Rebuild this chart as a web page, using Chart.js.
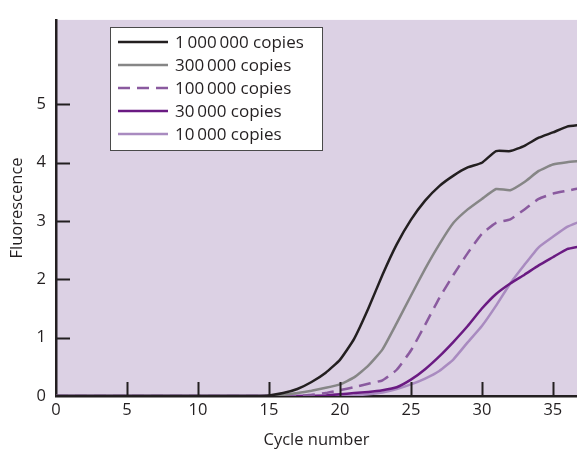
<!DOCTYPE html>
<html>
<head>
<meta charset="utf-8">
<script src="https://cdn.jsdelivr.net/npm/chart.js@4.4.1/dist/chart.umd.min.js"></script>
<style>
    html, body { margin: 0; padding: 0; background: #fff; }
    #wrap { width: 577px; height: 453px; position: relative; }
</style>
</head>
<body>
<div id="wrap"><canvas id="qpcrChart"></canvas></div>
<script>
const cycles = [0,1,2,3,4,5,6,7,8,9,10,11,12,13,14,15,16,17,18,19,20,21,22,23,24,25,26,27,28,29,30,31,32,33,34,35,36,37];

const copies1M =   [0,0,0,0,0,0,0,0,0,0,0,0,0,0,0,0.01,0.05,0.12,0.24,0.4,0.62,0.98,1.5,2.08,2.6,3.02,3.35,3.6,3.78,3.92,4.0,4.2,4.2,4.29,4.43,4.52,4.62,4.65];
const copies300k = [0,0,0,0,0,0,0,0,0,0,0,0,0,0,0,0,0.02,0.05,0.09,0.14,0.2,0.32,0.52,0.8,1.25,1.72,2.18,2.6,2.97,3.2,3.38,3.55,3.53,3.67,3.86,3.97,4.01,4.03];
const copies100k = [0,0,0,0,0,0,0,0,0,0,0,0,0,0,0,0,0,0,0.02,0.05,0.1,0.15,0.21,0.27,0.45,0.78,1.22,1.68,2.08,2.45,2.78,2.97,3.03,3.2,3.38,3.47,3.52,3.57];
const copies30k =  [0,0,0,0,0,0,0,0,0,0,0,0,0,0,0,0,0,0,0,0.01,0.03,0.05,0.07,0.1,0.15,0.28,0.46,0.68,0.93,1.2,1.5,1.75,1.93,2.08,2.24,2.38,2.52,2.57];
const copies10k =  [0,0,0,0,0,0,0,0,0,0,0,0,0,0,0,0,0,0,0,0,0,0.01,0.03,0.06,0.12,0.2,0.3,0.43,0.63,0.92,1.2,1.55,1.93,2.25,2.55,2.73,2.9,3.0];

const seriesLabels = ["1\u2009000\u2009000 copies", "300\u2009000 copies", "100\u2009000 copies", "30\u2009000 copies", "10\u2009000 copies"];
const xTicks = [0, 5, 10, 15, 20, 25, 30, 35];
const yTicks = [0, 1, 2, 3, 4, 5];

const FONT = "'Open Sans', sans-serif";
const FSIZE = 16.5;
const INK = "#231f20";

const toPoints = vals => cycles.map((c, i) => ({ x: c, y: vals[i] }));

const plotBackground = {
    id: "plotBackground",
    beforeDraw(chart) {
        const { ctx, chartArea: a } = chart;
        ctx.save();
        ctx.fillStyle = "#dcd1e4";
        ctx.fillRect(a.left, a.top, a.right - a.left, a.bottom - a.top);
        ctx.restore();
    }
};

// tick marks point into the plot
const innerTicks = {
    id: "innerTicks",
    afterDatasetsDraw(chart) {
        const { ctx, chartArea: a, scales } = chart;
        ctx.save();
        ctx.strokeStyle = INK;
        ctx.lineWidth = 2;
        xTicks.filter(v => v > 0).forEach(v => {
            const px = Math.round(scales.x.getPixelForValue(v)) + 0.5;
            ctx.beginPath();
            ctx.moveTo(px, a.bottom);
            ctx.lineTo(px, a.bottom - 14);
            ctx.stroke();
        });
        yTicks.filter(v => v > 0).forEach(v => {
            const py = Math.round(scales.y.getPixelForValue(v)) + 0.5;
            ctx.beginPath();
            ctx.moveTo(a.left, py);
            ctx.lineTo(a.left + 14, py);
            ctx.stroke();
        });
        ctx.restore();
    }
};

const boxLegend = {
    id: "boxLegend",
    afterDraw(chart) {
        const ctx = chart.ctx;
        const bx = 110, by = 27, bw = 212, bh = 123;
        ctx.save();
        ctx.fillStyle = "#fff";
        ctx.fillRect(bx, by, bw, bh);
        ctx.strokeStyle = "#4a4a4a";
        ctx.lineWidth = 1;
        ctx.strokeRect(bx + 0.5, by + 0.5, bw, bh);
        chart.data.datasets.forEach((ds, i) => {
            const y = 42 + i * 23;
            ctx.strokeStyle = ds.borderColor;
            ctx.lineWidth = ds.borderWidth;
            ctx.setLineDash(ds.borderDash || []);
            ctx.beginPath();
            ctx.moveTo(118, y);
            ctx.lineTo(168, y);
            ctx.stroke();
            ctx.setLineDash([]);
            ctx.fillStyle = INK;
            ctx.font = "17px " + FONT;
            ctx.textBaseline = "middle";
            ctx.fillText(ds.label, 175, y + 1);
        });
        ctx.restore();
    }
};

const mkSet = (label, vals, color, width, dash) => ({
    label: label,
    data: toPoints(vals),
    borderColor: color,
    borderWidth: width,
    borderDash: dash,
    pointRadius: 0,
    tension: 0.15,
    fill: false
});

new Chart(document.getElementById("qpcrChart"), {
    type: "line",
    data: {
        datasets: [
            mkSet(seriesLabels[0], copies1M, "#231f20", 2.5, []),
            mkSet(seriesLabels[1], copies300k, "#868686", 2.5, []),
            mkSet(seriesLabels[2], copies100k, "#8a5a9f", 2.5, [12, 7]),
            mkSet(seriesLabels[3], copies30k, "#6a1a82", 2.5, []),
            mkSet(seriesLabels[4], copies10k, "#a98bc0", 2.5, [])
        ]
    },
    options: {
        responsive: true,
        maintainAspectRatio: false,
        animation: false,
        layout: { padding: { top: 8, right: 0, left: 0, bottom: 0 } },
        plugins: { legend: { display: false }, tooltip: { enabled: false } },
        scales: {
            x: {
                type: "linear",
                min: 0,
                max: 36.7,
                afterBuildTicks: s => { s.ticks = xTicks.map(v => ({ value: v })); },
                afterFit: s => { s.height = 57; },
                grid: { display: false, drawTicks: false },
                border: { display: true, color: INK, width: 2.5 },
                ticks: { color: INK, font: { family: FONT, size: FSIZE }, padding: 4, maxRotation: 0 },
                title: { display: true, text: "Cycle number", color: INK, font: { family: FONT, size: FSIZE }, padding: { top: 0, bottom: 3 } }
            },
            y: {
                min: 0,
                max: 6.45,
                afterBuildTicks: s => { s.ticks = yTicks.map(v => ({ value: v })); },
                afterFit: s => { s.width = 56; },
                grid: { display: false, drawTicks: false },
                border: { display: true, color: INK, width: 2.5 },
                ticks: { color: INK, font: { family: FONT, size: FSIZE }, padding: 10 },
                title: { display: true, text: "Fluorescence", color: INK, font: { family: FONT, size: FSIZE }, padding: { top: 7, bottom: 0 } }
            }
        }
    },
    plugins: [plotBackground, innerTicks, boxLegend]
});
</script>
</body>
</html>
